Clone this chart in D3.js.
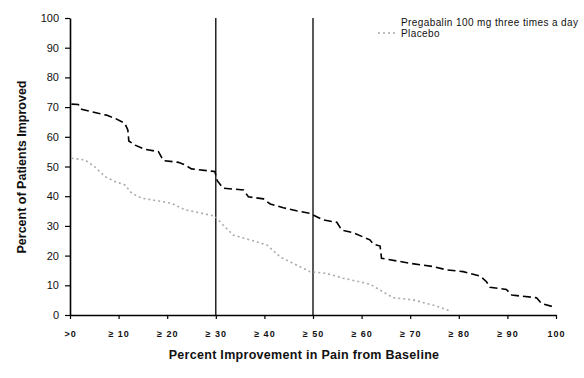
<!DOCTYPE html>
<html>
<head>
<meta charset="utf-8">
<script src="https://cdn.jsdelivr.net/npm/d3@7"></script>
<style>
  body { margin: 0; background: #fff; }
  svg text { font-family: Arial, "Liberation Sans", sans-serif; fill: #111; }
</style>
</head>
<body>
<div class="chart"></div>
<script>
// data
const pregX = [0.3, 1.7, 2.4, 5.8, 7.5, 9.3, 11.3, 11.9, 12.1, 13.4, 15.4, 18.2, 19.2, 22.3, 23.7, 25.0, 29.8,
  30.3, 31.5, 35.7, 36.7, 39.8, 41.2, 43.9, 46.6, 49.4, 52.1, 54.9, 55.9, 58.3, 61.7, 62.4, 63.8, 64.1,
  70.0, 74.8, 77.5, 80.9, 84.4, 85.7, 86.4, 89.8, 90.9, 96.0, 97.0, 99.8];
const pregY = [71.0, 70.9, 69.3, 67.9, 67.3, 66.2, 64.5, 62.3, 58.6, 57.2, 55.8, 55.0, 52.0, 51.4, 50.5, 49.2, 48.3,
  45.2, 42.7, 42.1, 39.8, 39.1, 37.4, 36.1, 35.1, 34.2, 32.0, 31.2, 28.6, 27.7, 25.3, 23.9, 23.2, 19.1,
  17.4, 16.3, 15.2, 14.6, 13.1, 11.2, 9.3, 8.6, 6.7, 5.8, 3.9, 2.6];
const placX = [0.3, 3.1, 5.1, 7.2, 9.3, 11.3, 12.7, 14.8, 18.2, 20.9, 23.7, 26.4, 29.8,
  30.2, 31.5, 33.6, 37.0, 40.5, 43.2, 45.9, 49.4, 52.8, 56.2, 61.7, 66.5, 70.6, 75.0, 78.5];
const placY = [52.8, 52.2, 49.9, 46.6, 44.9, 43.8, 41.0, 39.3, 38.4, 37.6, 35.4, 34.5, 33.3,
  32.6, 30.3, 26.9, 25.3, 23.6, 19.6, 17.4, 14.6, 14.0, 12.4, 10.4, 5.8, 5.1, 3.2, 1.2];
const xTicks = [0, 10, 20, 30, 40, 50, 60, 70, 80, 90, 100];
const xTickLabels = ['>0', '\u2265 10', '\u2265 20', '\u2265 30', '\u2265 40', '\u2265 50', '\u2265 60', '\u2265 70', '\u2265 80', '\u2265 90', '100'];
const yTicks = [0, 10, 20, 30, 40, 50, 60, 70, 80, 90, 100];
const markers = [30, 50];
const seriesNames = ['Pregabalin 100 mg three times a day', 'Placebo'];

const W = 584, H = 378;
const svg = d3.select('.chart').append('svg').attr('width', W).attr('height', H);

const x = d3.scaleLinear([0, 100], [70, 556]);
const y = d3.scaleLinear([0, 100], [315, 18]);

// vertical reference lines at 30 and 50
svg.append('g').selectAll('line').data(markers).join('line')
  .attr('x1', d => x(d)).attr('x2', d => x(d))
  .attr('y1', y(100)).attr('y2', y(0))
  .attr('stroke', '#000').attr('stroke-width', 1.3);

// axes
const yAxis = d3.axisLeft(y).tickValues(yTicks).tickSize(5).tickPadding(6).tickSizeOuter(0);
const yg = svg.append('g').attr('transform', `translate(${x(0)},0)`).call(yAxis);
yg.select('.domain').attr('stroke', '#000').attr('stroke-width', 1.6);
yg.selectAll('.tick line').attr('stroke', '#000').attr('stroke-width', 1.2);
yg.selectAll('text').style('font-size', '11px').attr('fill', '#222');

const xAxis = d3.axisBottom(x).tickValues(xTicks).tickSize(4).tickSizeOuter(0)
  .tickFormat((d, i) => xTickLabels[i]).tickPadding(12);
const xg = svg.append('g').attr('transform', `translate(0,${y(0)})`).call(xAxis);
xg.select('.domain').attr('stroke', '#000').attr('stroke-width', 1.6);
xg.selectAll('.tick line').attr('stroke', '#000').attr('stroke-width', 1.2);
xg.selectAll('text').style('font-size', '9px').style('font-weight', 'bold')
  .style('letter-spacing', '1px').attr('fill', '#222');

// series
const line = d3.line().x(d => x(d[0])).y(d => y(d[1]));
const pregData = d3.zip(pregX, pregY);
const placData = d3.zip(placX, placY);

svg.append('path').datum(placData).attr('d', line)
  .attr('fill', 'none').attr('stroke', '#aaaaaa').attr('stroke-width', 1.6)
  .attr('stroke-dasharray', '2,3');

svg.append('path').datum(pregData).attr('d', line)
  .attr('fill', 'none').attr('stroke', '#000').attr('stroke-width', 1.6)
  .attr('stroke-dasharray', '8,4');

// axis titles
svg.append('text').attr('x', 304).attr('y', 359).attr('text-anchor', 'middle')
  .style('font-size', '12.5px').style('font-weight', 'bold').style('letter-spacing', '0.3px')
  .text('Percent Improvement in Pain from Baseline');

svg.append('text').attr('transform', 'translate(26,167) rotate(-90)').attr('text-anchor', 'middle')
  .style('font-size', '12.5px').style('font-weight', 'bold')
  .text('Percent of Patients Improved');

// legend
const legend = svg.append('g');
legend.append('text').attr('x', 401).attr('y', 26).style('font-size', '10px')
  .style('letter-spacing', '0.4px').attr('fill', '#333')
  .text(seriesNames[0]);
legend.append('line').attr('x1', 378).attr('x2', 398).attr('y1', 33).attr('y2', 33)
  .attr('stroke', '#aaaaaa').attr('stroke-width', 1.4).attr('stroke-dasharray', '2,3');
legend.append('text').attr('x', 401).attr('y', 37).style('font-size', '10px')
  .style('letter-spacing', '0.4px').attr('fill', '#333')
  .text(seriesNames[1]);
</script>
</body>
</html>
